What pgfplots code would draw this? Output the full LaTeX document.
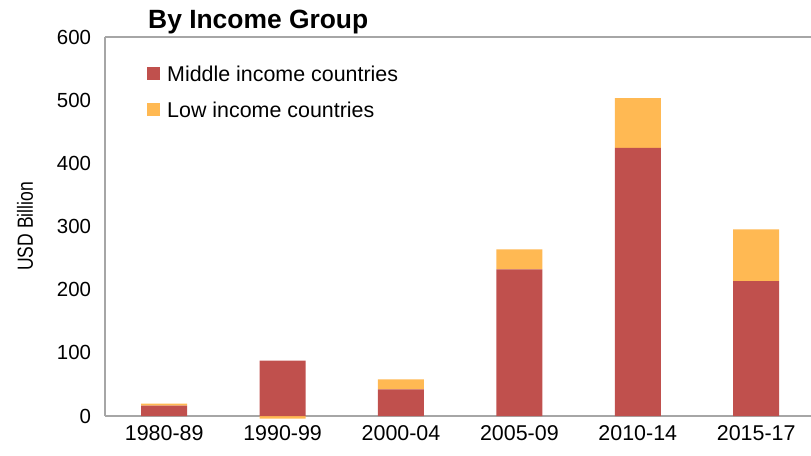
\documentclass[border=0pt]{standalone}
\usepackage{fontspec}
\setmainfont{Liberation Sans}
\newfontfamily\narrowfont[FakeStretch=0.8]{Liberation Sans}
\usepackage{pgfplots}
\pgfplotsset{compat=1.18}
\definecolor{midc}{RGB}{192,80,77}
\definecolor{lowc}{RGB}{255,185,83}
\definecolor{axc}{RGB}{166,166,166}
\begin{document}
\begin{tikzpicture}
\begin{axis}[name=ax, scale only axis, width=706bp, height=379bp,
  ybar stacked, stack negative=separate, bar width=46bp,
  xmin=-0.5, xmax=5.463, ymin=0, ymax=600, ytick={0,100,...,600},
  xtick={0,...,5}, xticklabels={1980-89,1990-99,2000-04,2005-09,2010-14,2015-17},
  major tick length=0, clip=false,
  axis x line*=bottom, axis y line*=left,
  axis line style={draw=axc, line width=1.5bp, -},
  /pgf/number format/assume math mode=true,
  yticklabel style={font=\fontsize{20.5}{24}\selectfont, xshift=-10.5bp},
  xticklabel style={font=\fontsize{21.5}{25}\selectfont, yshift=-6bp},
  every axis y label/.style={at={(rel axis cs:-0.1133,0.5)}, rotate=90, anchor=center, font=\narrowfont\fontsize{22}{26}\selectfont},
  ylabel={USD Billion},
  legend style={at={(rel axis cs:0.0595,0.925)}, anchor=north west, draw=none, fill=none, inner sep=0pt,
    font=\fontsize{21.5}{25}\selectfont, row sep=21bp, legend cell align=left,
    nodes={inner sep=0pt, text depth=0pt}},
  legend image code/.code={\fill[#1] (0bp,-6.5bp) rectangle (13bp,6.5bp);},
  after end axis/.code={\draw[axc, line width=1.5bp] (rel axis cs:0,1) -- (rel axis cs:1,1);},
]
\addplot[fill=midc, draw=none] coordinates {(0,16.3) (1,87.7) (2,42.3) (3,232.2) (4,424.3) (5,213.7)};
\addplot[fill=lowc, draw=none] coordinates {(0,3.2) (1,-4) (2,15.8) (3,31.7) (4,79.1) (5,81.9)};
\legend{\hspace{7bp}Middle income countries, \hspace{7bp}Low income countries}
\end{axis}
\node[anchor=base west, font=\bfseries\fontsize{26.5}{31}\selectfont, inner sep=0pt] at ([xshift=43bp, yshift=8bp]ax.north west) {By Income Group};
\pgfresetboundingbox
\useasboundingbox ([xshift=-105bp,yshift=-40bp]ax.south west) rectangle ([yshift=37bp]ax.north east);
\end{tikzpicture}
\end{document}
